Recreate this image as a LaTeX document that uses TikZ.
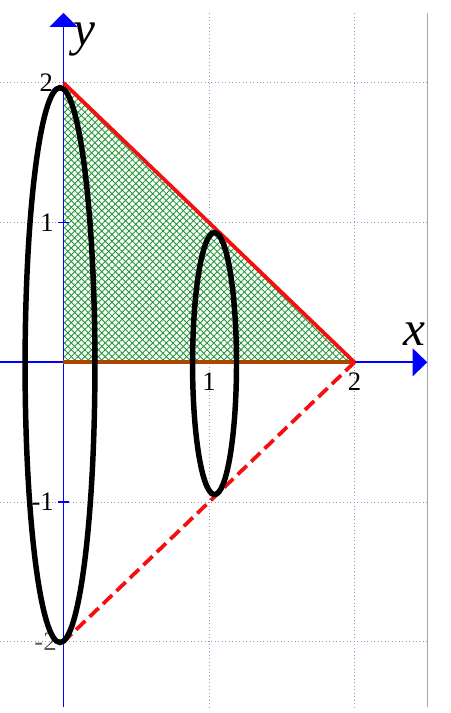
\documentclass[tikz,border=0pt]{standalone}
\usepackage{fontspec}
\setmainfont{Liberation Serif}
\usetikzlibrary{patterns.meta}
\definecolor{axisblue}{RGB}{0,0,255}
\definecolor{gridc}{RGB}{150,150,210}
\definecolor{hatch}{RGB}{40,145,60}
\definecolor{brownline}{RGB}{170,70,0}
\definecolor{redline}{RGB}{245,15,15}
\begin{document}
\begin{tikzpicture}[x=109.125pt,y=104.81pt,
  gridline/.style={gridc, line width=0.6pt, dotted},
  axisline/.style={axisblue, line width=1.35pt},
  ellipsecurve/.style={black, line width=4.1pt},
  ticklabel/.style={font=\fontsize{20}{20}\selectfont, inner sep=0pt},
  axislabel/.style={font=\fontsize{37}{37}\selectfont\itshape, inner sep=0pt},
  redstroke/.style={redline, line width=2.8pt}]
\useasboundingbox (-0.4364,-2.5095) rectangle (2.6564,2.5925);
% key points
\coordinate (O) at (0,0);
\coordinate (A) at (0,2);
\coordinate (B) at (2,0);
\coordinate (C) at (0,-2);
\coordinate (xstart) at (-0.4364,0);
\coordinate (xbase) at (2.4,0);
\coordinate (xtip) at (2.5,0);
\coordinate (ystart) at (0,-2.47);
\coordinate (ybase) at (0,2.4);
\coordinate (ytip) at (0,2.5);
% grid
\foreach \yy in {-2,-1,1,2} \draw[gridline] (-0.4364,\yy) -- (2.5,\yy);
\foreach \xx in {1,2} \draw[gridline] (\xx,-2.47) -- (\xx,2.5);
\draw[gray!70, line width=1.1pt] (2.5,-2.47) -- (2.5,2.5);
% shaded triangle
\fill[green!3] (O) -- (A) -- (B) -- cycle;
\fill[pattern={Lines[angle=45,distance=3.6pt,line width=0.65pt]}, pattern color=hatch] (O) -- (A) -- (B) -- cycle;
\fill[pattern={Lines[angle=-45,distance=3.6pt,line width=0.65pt]}, pattern color=hatch] (O) -- (A) -- (B) -- cycle;
% axes
\draw[axisline] (xstart) -- (xbase);
\draw[axisline] (ystart) -- (ybase);
\fill[axisblue] (xtip) -- ++(-0.1,0.1) -- ++(0,-0.2) -- cycle;
\fill[axisblue] (ytip) -- ++(-0.096,-0.1) -- ++(0.192,0) -- cycle;
\foreach \yy in {-1,1} \draw[axisline] (-0.035,\yy) -- (0.035,\yy);
% boundary lines
\draw[brownline, line width=2.9pt] (O) -- (B);
\draw[redstroke] (A) -- (B);
\draw[redstroke, dash pattern=on 9.5pt off 4.5pt] (B) -- (C);
% labels
\node[axislabel] (ylab) at (0.145,2.31) {y};
\node[axislabel] (xlab) at (2.409,0.2) {x};
\node[ticklabel, anchor=north] (x1) at (1,-0.075) {1};
\node[ticklabel, anchor=north] (x2) at (2,-0.075) {2};
\node[ticklabel, anchor=east] (y2) at (-0.07,2) {2};
\node[ticklabel, anchor=east] (y1) at (-0.065,1) {1};
\node[ticklabel, anchor=east] (ym1) at (-0.065,-1) {-1};
\node[ticklabel, anchor=east, text=black!65] (ym2) at (-0.045,-2) {-2};
% ellipses
\draw[ellipsecurve] (-0.024,-0.02) ellipse [x radius=0.24, y radius=1.985];
\draw[ellipsecurve] (1.038,-0.009) ellipse [x radius=0.151, y radius=0.937];
\end{tikzpicture}
\end{document}
